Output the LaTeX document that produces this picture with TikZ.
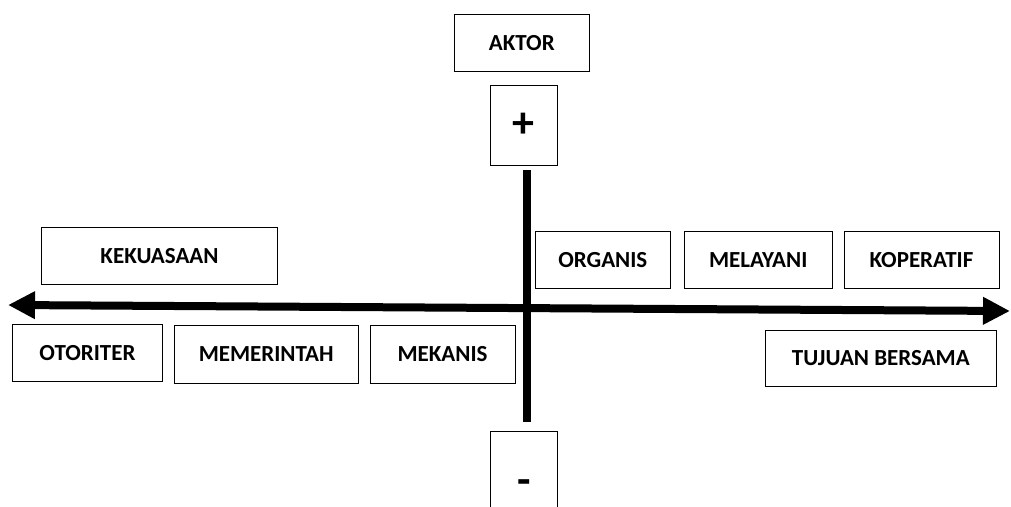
\documentclass[tikz,border=0pt]{standalone}
\usepackage{fontspec}
\setmainfont{Carlito}
\usetikzlibrary{arrows.meta}
\begin{document}
\begin{tikzpicture}[x=1pt,y=-1pt,
  mybox/.style={draw,line width=0.9pt,inner sep=0pt,outer sep=0pt,font=\bfseries\fontsize{23}{26}\selectfont},
  signbox/.style={mybox,minimum width=67.7pt,font=\bfseries\fontsize{44}{48}\selectfont},
  axis/.style={line width=8pt}]
\useasboundingbox (0,0) rectangle (1011,506);
\clip (0,0) rectangle (1011,506);
\node[mybox,minimum width=135pt,minimum height=57.4pt] (aktor) at (521.8,43) {AKTOR};
\node[signbox,minimum height=79.3pt] (plus) at (523.8,125.3) {+};
\node[signbox,minimum height=111pt] (minus) at (523.8,487) {-};
\node[mybox,minimum width=235.6pt,minimum height=56.7pt] (kekuasaan) at (159.5,255.7) {KEKUASAAN};
\node[mybox,minimum width=150.4pt,minimum height=57.7pt] (otoriter) at (87.5,352.8) {OTORITER};
\node[mybox,minimum width=184.3pt,minimum height=57.6pt] (memerintah) at (266.2,354.5) {MEMERINTAH};
\node[mybox,minimum width=145pt,minimum height=57.6pt] (mekanis) at (442.5,354.5) {MEKANIS};
\node[mybox,minimum width=134.3pt,minimum height=56.6pt] (organis) at (602.8,260) {ORGANIS};
\node[mybox,minimum width=148.3pt,minimum height=56.6pt] (melayani) at (758.2,260) {MELAYANI};
\node[mybox,minimum width=155pt,minimum height=56.6pt] (koperatif) at (921.5,260) {KOPERATIF};
\node[mybox,minimum width=231.7pt,minimum height=56.7pt] (tujuan) at (880.8,358.3) {TUJUAN BERSAMA};
\coordinate (west) at (8,305);
\coordinate (east) at (1010,311);
\coordinate (north) at (526.7,170);
\coordinate (south) at (526.7,421.7);
\draw[axis,{Triangle[length=27pt,width=26pt]}-{Triangle[length=27pt,width=26pt]}] (west) -- (east);
\draw[axis] (north) -- (south);
\end{tikzpicture}
\end{document}
